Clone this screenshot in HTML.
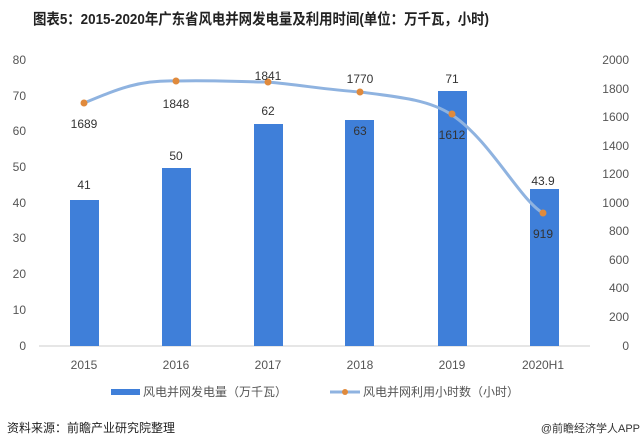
<!DOCTYPE html>
<html><head><meta charset="utf-8"><style>
html,body{margin:0;padding:0;background:#fff;}
svg{display:block;font-family:"Liberation Sans","Noto Sans CJK SC",sans-serif;}
</style></head><body>
<svg width="643" height="448" viewBox="0 0 643 448" xmlns="http://www.w3.org/2000/svg">
<text x="261" y="24" text-anchor="middle" font-size="15" font-weight="bold" fill="#222" textLength="456" lengthAdjust="spacingAndGlyphs">图表5：2015-2020年广东省风电并网发电量及利用时间(单位：万千瓦，小时)</text>
<g font-size="12" fill="#555">
<g text-anchor="end">
<text x="26" y="64">80</text><text x="26" y="100">70</text><text x="26" y="135">60</text><text x="26" y="171">50</text><text x="26" y="207">40</text><text x="26" y="242">30</text><text x="26" y="278">20</text><text x="26" y="314">10</text><text x="26" y="350">0</text>
<text x="629" y="64">2000</text><text x="629" y="93">1800</text><text x="629" y="121">1600</text><text x="629" y="150">1400</text><text x="629" y="178">1200</text><text x="629" y="207">1000</text><text x="629" y="235">800</text><text x="629" y="264">600</text><text x="629" y="292">400</text><text x="629" y="321">200</text><text x="629" y="350">0</text>
</g>
</g>
<line x1="39" y1="346" x2="590" y2="346" stroke="#ccc" stroke-width="1"/>
<g fill="#3f7fd9">
<rect x="70" y="200" width="29" height="146"/>
<rect x="162" y="168" width="29" height="178"/>
<rect x="254" y="124" width="29" height="222"/>
<rect x="345" y="120" width="29" height="226"/>
<rect x="438" y="91" width="29" height="255"/>
<rect x="530" y="189" width="29" height="157"/>
</g>
<path d="M84,103 C120,88 140,80 176,81 C215,80 240,82 268,82 C300,85 330,90 360,92 C400,97 430,100 452,115 C490,140 520,200 543,213" fill="none" stroke="#8fb3e0" stroke-width="3"/>
<g fill="#e08a3c">
<circle cx="84" cy="103" r="3.5"/><circle cx="176" cy="81" r="3.5"/><circle cx="268" cy="82" r="3.5"/><circle cx="360" cy="92" r="3.5"/><circle cx="452" cy="114" r="3.5"/><circle cx="543" cy="213" r="3.5"/>
</g>
<g font-size="12" fill="#333" text-anchor="middle">
<text x="84" y="189">41</text><text x="176" y="160">50</text><text x="268" y="115">62</text><text x="360" y="135">63</text><text x="452" y="83">71</text><text x="543" y="185">43.9</text>
<text x="84" y="128">1689</text><text x="176" y="108">1848</text><text x="268" y="80">1841</text><text x="360" y="83">1770</text><text x="452" y="139">1612</text><text x="543" y="238">919</text>
</g>
<g font-size="12" fill="#555" text-anchor="middle">
<text x="84" y="369">2015</text><text x="176" y="369">2016</text><text x="268" y="369">2017</text><text x="360" y="369">2018</text><text x="452" y="369">2019</text><text x="543" y="369">2020H1</text>
</g>
<rect x="111" y="389" width="29" height="6" fill="#3f7fd9"/>
<text x="143" y="396" font-size="12" fill="#555">风电并网发电量（万千瓦）</text>
<line x1="330" y1="392" x2="360" y2="392" stroke="#8fb3e0" stroke-width="3"/>
<circle cx="345" cy="392" r="3" fill="#e08a3c"/>
<text x="363" y="396" font-size="12" fill="#555">风电并网利用小时数（小时）</text>
<text x="7" y="432" font-size="12" fill="#222">资料来源：前瞻产业研究院整理</text>
<text x="640" y="432" font-size="11" fill="#333" text-anchor="end">@前瞻经济学人APP</text>
</svg>
</body></html>
